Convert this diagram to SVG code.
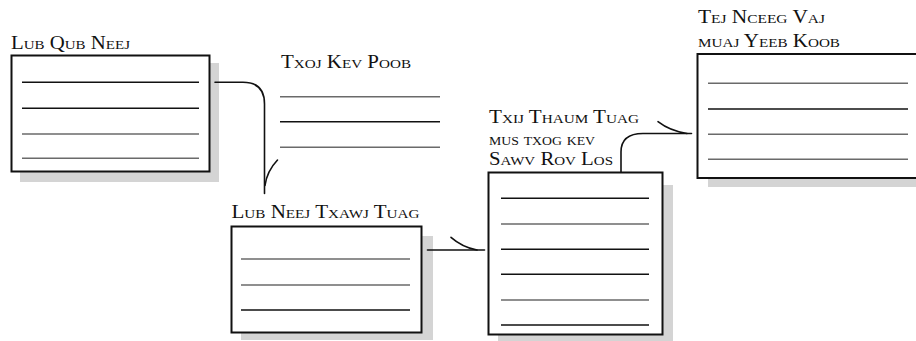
<svg xmlns="http://www.w3.org/2000/svg" width="916" height="341" viewBox="0 0 916 341">
<style>
.bg{fill:#fff}
.shadow{fill:#d4d4d4;stroke:none}
.box{fill:#fff;stroke:#111;stroke-width:2}
.lk{stroke:#111;stroke-width:1.5}
.lg{stroke:#6a6a6a;stroke-width:1.5}
.lbl{font-family:"Liberation Serif","Times New Roman",serif;font-size:18px;font-variant:small-caps;fill:#111}
.conn{fill:none;stroke:#111;stroke-width:1.6;stroke-linecap:round}
</style>
<rect class="bg" x="0" y="0" width="916" height="341"/>
<g id="node-lub-qub-neej">
<rect class="shadow" x="20" y="63" width="199" height="119"/>
<rect class="box" x="11.5" y="55.5" width="198" height="116"/>
<line class="lk" x1="22" y1="82.3" x2="199" y2="82.3"/>
<line class="lk" x1="22" y1="108.3" x2="199" y2="108.3"/>
<line class="lg" x1="22" y1="134" x2="199" y2="134"/>
<line class="lg" x1="22" y1="158.3" x2="199" y2="158.3"/>
<text class="lbl" x="11" y="49" textLength="119" lengthAdjust="spacingAndGlyphs">Lub Qub Neej</text>
</g>
<g id="node-txoj-kev-poob">
<line class="lg" x1="280" y1="96.7" x2="440" y2="96.7"/>
<line class="lk" x1="280" y1="121.7" x2="440" y2="121.7"/>
<line class="lg" x1="280" y1="147.3" x2="440" y2="147.3"/>
<text class="lbl" x="281" y="67.5" textLength="130" lengthAdjust="spacingAndGlyphs">Txoj Kev Poob</text>
</g>
<g id="node-lub-neej-txawj-tuag">
<rect class="shadow" x="241" y="236" width="192" height="104"/>
<rect class="box" x="231.5" y="226.5" width="190" height="106"/>
<line class="lg" x1="241" y1="259" x2="410" y2="259"/>
<line class="lg" x1="241" y1="285" x2="410" y2="285"/>
<line class="lk" x1="241" y1="310" x2="410" y2="310"/>
<text class="lbl" x="231.5" y="218" textLength="188" lengthAdjust="spacingAndGlyphs">Lub Neej Txawj Tuag</text>
</g>
<g id="node-txij-thaum-tuag">
<rect class="shadow" x="498" y="185" width="175" height="156"/>
<rect class="box" x="488.5" y="172.5" width="174" height="162"/>
<line class="lk" x1="501" y1="198.3" x2="649" y2="198.3"/>
<line class="lg" x1="501" y1="224" x2="649" y2="224"/>
<line class="lk" x1="501" y1="249.3" x2="649" y2="249.3"/>
<line class="lk" x1="501" y1="274.3" x2="649" y2="274.3"/>
<line class="lg" x1="501" y1="300" x2="649" y2="300"/>
<line class="lk" x1="501" y1="325" x2="649" y2="325"/>
<text class="lbl" x="489" y="123" textLength="150" lengthAdjust="spacingAndGlyphs">Txij Thaum Tuag</text>
<text class="lbl" x="489" y="144.5" textLength="106" lengthAdjust="spacingAndGlyphs">mus txog kev</text>
<text class="lbl" x="489" y="165" textLength="124" lengthAdjust="spacingAndGlyphs">Sawv Rov Los</text>
</g>
<g id="node-tej-nceeg-vaj">
<rect class="shadow" x="708" y="62" width="220" height="125"/>
<rect class="box" x="697.5" y="54" width="225" height="124"/>
<line class="lg" x1="708" y1="83.3" x2="908" y2="83.3"/>
<line class="lk" x1="708" y1="109" x2="908" y2="109"/>
<line class="lg" x1="708" y1="134.3" x2="908" y2="134.3"/>
<line class="lg" x1="708" y1="159.3" x2="908" y2="159.3"/>
<text class="lbl" x="698" y="23.3" textLength="127" lengthAdjust="spacingAndGlyphs">Tej Nceeg Vaj</text>
<text class="lbl" x="698" y="46.5" textLength="142" lengthAdjust="spacingAndGlyphs">muaj Yeeb Koob</text>
</g>
<g id="connectors">
<path class="conn" d="M215,82.3 H243 Q264.5,82.3 264.5,104 V193.5"/>
<path class="conn" d="M277.5,160 Q267,171 265,185.5"/>
<path class="conn" d="M427.5,250 H484.5"/>
<path class="conn" d="M451,237.3 Q462,247 477,250"/>
<path class="conn" d="M621,172 V152 C621,139 629,133.5 643,133.5 H691.5"/>
<path class="conn" d="M658,121.7 Q670,131 687,133.5"/>
</g>
</svg>
